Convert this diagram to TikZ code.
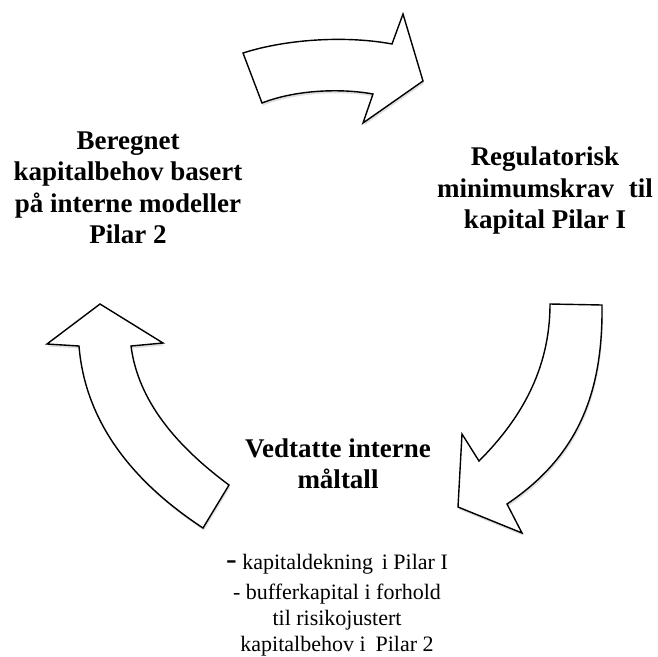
\documentclass[tikz,border=0pt]{standalone}
\usepackage{fontspec}
\setmainfont{Liberation Serif}
\usetikzlibrary{shadows}
\begin{document}
\begin{tikzpicture}[x=1pt,y=-1pt,
  cyclearrow/.style={draw=black,line width=1.4pt,line join=miter,fill=white,
    drop shadow={opacity=0.25,shadow xshift=1pt,shadow yshift=-2.5pt}},
  headtext/.style={align=center,inner sep=0pt,font=\bfseries\fontsize{27}{31.5}\selectfont},
  bodytext/.style={align=center,inner sep=0pt,font=\fontsize{22}{26}\selectfont}]
\useasboundingbox (0,0) rectangle (657,657);
% top arrow
\path[cyclearrow] (243,53) .. controls (290,38) and (350,36) .. (392,44)
  -- (403,14) -- (423,81) -- (363,123) -- (373,94)
  .. controls (340,88) and (295,90) .. (262,103) -- cycle;
% right arrow
\path[cyclearrow] (550,304) -- (602,305)
  .. controls (603,390) and (580,455) .. (507,504)
  -- (522,533) -- (458,507) -- (462,434) -- (479,461)
  .. controls (520,420) and (550,370) .. (550,304) -- cycle;
% left arrow
\path[cyclearrow] (79,346) .. controls (85,420) and (130,480) .. (203,528)
  -- (229,485) .. controls (175,445) and (138,400) .. (131,346)
  -- (163,343) -- (100,304) -- (47,344) -- cycle;
\node[headtext] (beregnet) at (128,188) {Beregnet\\kapitalbehov basert\\på interne modeller\\Pilar 2};
\node[headtext] (regul) at (545,191) {Regulatorisk\\minimumskrav\hspace{0.3em} til\\kapital Pilar I};
\node[headtext] (vedtatte) at (338,464) {Vedtatte interne\\måltall};
\node[bodytext] (liste) at (337,605) {{\fontsize{32}{32}\selectfont -} kapitaldekning\hspace{0.15em} i Pilar I\\[4pt]- bufferkapital i forhold\\til risikojustert\\kapitalbehov i\hspace{0.2em} Pilar 2};
\end{tikzpicture}
\end{document}
